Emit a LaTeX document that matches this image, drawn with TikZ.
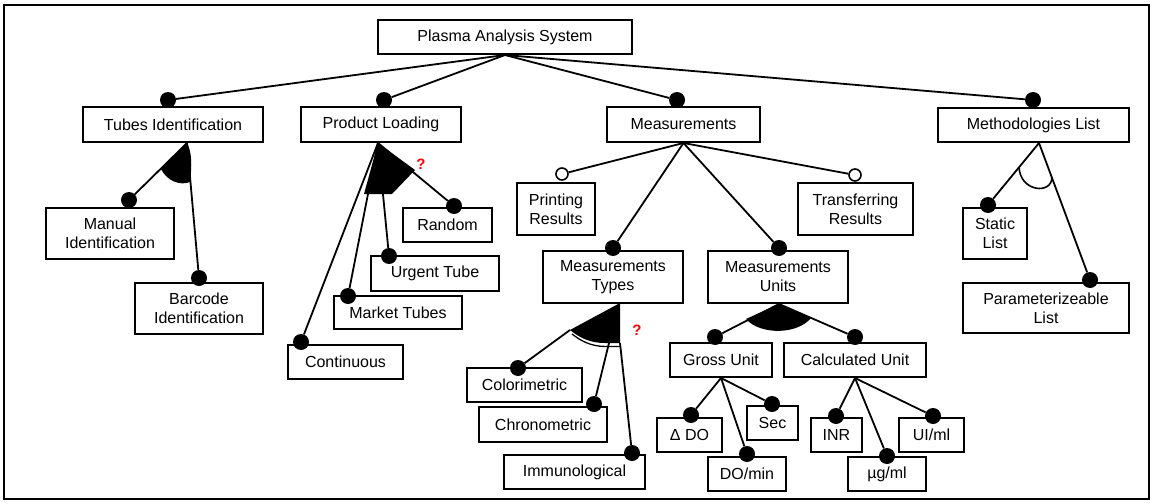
\documentclass[tikz,border=0pt]{standalone}
\usepackage{fontspec}
\setmainfont{Liberation Sans}
\begin{document}
\begin{tikzpicture}[x=1pt,y=-1pt,
  box/.style={draw, fill=white, line width=2pt, inner sep=0pt, align=center,
              font=\fontsize{16}{19}\selectfont},
  conn/.style={line width=1.8pt},
  dot/.style={circle, fill=black, inner sep=0pt, minimum size=16pt},
  opendot/.style={circle, draw=black, fill=white, line width=1.6pt, inner sep=0pt, minimum size=12pt},
  grp/.style={fill=black},
  optmark/.style={text=red, inner sep=0pt, font=\bfseries\fontsize{15}{15}\selectfont},
]
\useasboundingbox (0,0) rectangle (1153,503);
\draw[line width=1.6pt] (4,5) rectangle (1149,499);

% feature boxes: name, centre x, centre y, width, height, label
\newcommand\featbox[6]{\node[box, minimum width=#4pt, minimum height=#5pt] (#1) at (#2,#3) {#6};}

\featbox{root}{505}{37}{254}{34}{Plasma Analysis System}
\featbox{tubes}{173}{124.5}{180}{35}{Tubes Identification}
\featbox{prod}{381}{124.5}{160}{35}{Product Loading}
\featbox{meas}{683.5}{124.5}{153}{35}{Measurements}
\featbox{meth}{1033.5}{125}{191}{34}{Methodologies List}

\featbox{manual}{110}{233.5}{128}{51}{Manual\\Identification}
\featbox{barcode}{199}{308.5}{128}{51}{Barcode\\Identification}

\featbox{random}{447.5}{225}{89}{34}{Random}
\featbox{urgent}{435}{273.5}{128}{35}{Urgent Tube}
\featbox{market}{398}{312.5}{128}{33}{Market Tubes}
\featbox{cont}{345.5}{362}{115}{34}{Continuous}

\featbox{print}{556}{209}{78}{52}{Printing\\Results}
\featbox{mtypes}{613}{277}{140}{52}{Measurements\\Types}
\featbox{munits}{778}{277}{140}{52}{Measurements\\Units}
\featbox{transfer}{855.5}{209}{115}{52}{Transferring\\Results}

\featbox{static}{995}{233.5}{64}{51}{Static\\List}
\featbox{param}{1046}{308}{166}{50}{Parameterizeable\\List}

\featbox{colori}{524.5}{385}{115}{34}{Colorimetric}
\featbox{chrono}{543}{424.5}{128}{35}{Chronometric}
\featbox{immuno}{574.5}{472}{141}{34}{Immunological}

\featbox{gross}{721}{360}{102}{34}{Gross Unit}
\featbox{calc}{855}{360}{142}{34}{Calculated Unit}

\featbox{ddo}{689.5}{435}{65}{34}{Δ DO}
\featbox{domin}{747}{474}{78}{34}{DO/min}
\featbox{sec}{772.5}{423}{51}{34}{Sec}
\featbox{inr}{836.5}{435}{51}{34}{INR}
\featbox{ugml}{887}{474}{78}{34}{µg/ml}
\featbox{uiml}{931.5}{435}{65}{34}{UI/ml}

% mandatory (filled) and optional (hollow) markers
\node[dot] (d-tubes) at (168,100) {};
\node[dot] (d-prod) at (384,100) {};
\node[dot] (d-meas) at (677,100) {};
\node[dot] (d-meth) at (1033,100) {};
\node[dot] (d-manual) at (129,200) {};
\node[dot] (d-barcode) at (199,278) {};
\node[dot] (d-random) at (454,206) {};
\node[dot] (d-urgent) at (389,256) {};
\node[dot] (d-market) at (348,296) {};
\node[dot] (d-cont) at (301,342) {};
\node[opendot] (o-print) at (562,174) {};
\node[dot] (d-mtypes) at (613,248) {};
\node[dot] (d-munits) at (779,248) {};
\node[opendot] (o-transfer) at (855,175) {};
\node[dot] (d-static) at (988,205) {};
\node[dot] (d-param) at (1090,280) {};
\node[dot] (d-colori) at (518,368) {};
\node[dot] (d-chrono) at (594,404) {};
\node[dot] (d-immuno) at (632,453) {};
\node[dot] (d-gross) at (715,337) {};
\node[dot] (d-calc) at (855,337) {};
\node[dot] (d-ddo) at (691,415) {};
\node[dot] (d-domin) at (747,454) {};
\node[dot] (d-sec) at (772,404) {};
\node[dot] (d-inr) at (836,416) {};
\node[dot] (d-ugml) at (887,456) {};
\node[dot] (d-uiml) at (933,416) {};

% branching points below the parent boxes
\coordinate (tj) at (187,143);
\coordinate (pj) at (378,143);
\coordinate (lj) at (1039,143);
\coordinate (uj) at (779,304);
\coordinate (tyj) at (620,303);
\coordinate (ty-l) at (570,330);
\coordinate (ty-m) at (609,343);
\coordinate (ty-r) at (620,343);

% connectors
\draw[conn] (root.south) -- (d-tubes);
\draw[conn] (root.south) -- (d-prod);
\draw[conn] (root.south) -- (d-meas);
\draw[conn] (root.south) -- (d-meth);

\draw[conn] (tj) -- (d-manual);
\draw[conn] (tj) -- (d-barcode);

\draw[conn] (pj) -- (d-random);
\draw[conn] (pj) -- (d-urgent);
\draw[conn] (pj) -- (d-market);
\draw[conn] (pj) -- (d-cont);

\draw[conn] (meas.south) -- (o-print);
\draw[conn] (meas.south) -- (d-mtypes);
\draw[conn] (meas.south) -- (d-munits);
\draw[conn] (meas.south) -- (o-transfer);

\draw[conn] (lj) -- (d-static);
\draw[conn] (lj) -- (d-param);

\draw[conn] (ty-l) -- (d-colori);
\draw[conn] (ty-m) -- (d-chrono);
\draw[conn] (ty-r) -- (d-immuno);

\draw[conn] (uj) -- (d-gross);
\draw[conn] (uj) -- (d-calc);

\draw[conn] (gross.south) -- (d-ddo);
\draw[conn] (gross.south) -- (d-domin);
\draw[conn] (gross.south) -- (d-sec);
\draw[conn] (calc.south) -- (d-inr);
\draw[conn] (calc.south) -- (d-ugml);
\draw[conn] (calc.south) -- (d-uiml);

% group symbols
\fill[grp] (tj) -- (161,169) .. controls (167,181) and (180,186) .. (190,182)
  .. controls (192,166) and (192,152) .. (tj);
\fill[grp] (pj) -- (415,170) -- (392,194) -- (364,194) -- cycle;
\draw[line width=1.6pt] (1019,167) .. controls (1020,192) and (1052,195) .. (1052,177);
\fill[grp] (tyj) -- (ty-l) .. controls (580,338) and (590,343) .. (605,343) -- (ty-r) -- cycle;
\draw[line width=1.3pt] (572,334) .. controls (581,341) and (591,346.5) .. (606,346.5) -- (620,346.5);
\fill[grp] (uj) -- (746,319) .. controls (760,335) and (797,335) .. (811,318) -- cycle;

% open-choice marks
\node[optmark] (q-prod) at (421,164) {?};
\node[optmark] (q-types) at (637,330) {?};
\end{tikzpicture}
\end{document}
